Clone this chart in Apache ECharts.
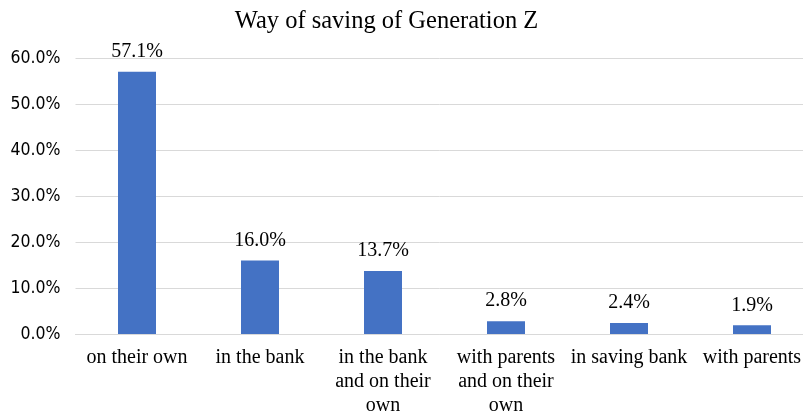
<!DOCTYPE html>
<html>
<head>
<meta charset="utf-8">
<script src="https://cdn.jsdelivr.net/npm/echarts@6/dist/echarts.min.js"></script>
<style>
html,body{margin:0;padding:0;background:#fff;}
#chart{width:803px;height:417px;}
</style>
</head>
<body>
<div id="chart"></div>
<script>
var title = 'Way of saving of Generation Z';
var categories = ['on their own', 'in the bank', 'in the bank\nand on their\nown', 'with parents\nand on their\nown', 'in saving bank', 'with parents'];
var values = [57.1, 16.0, 13.7, 2.8, 2.4, 1.9];
var yTicks = [0, 10, 20, 30, 40, 50, 60];

var serif = '"Liberation Serif", "Times New Roman", serif';
var narrow = '"Liberation Sans Narrow", "Arial Narrow", "DejaVu Sans Condensed", sans-serif';
var chart = echarts.init(document.getElementById('chart'));
chart.setOption({
  animation: false,
  title: {
    text: title,
    left: 381.5,
    textAlign: 'center',
    top: 4,
    textStyle: { fontFamily: serif, fontSize: 24.5, fontWeight: 'normal', color: '#000' }
  },
  grid: { left: 75.5, width: 738, top: 58.5, height: 275.5, containLabel: false, outerBoundsMode: 'none' },
  xAxis: {
    type: 'category',
    data: categories,
    axisLine: { lineStyle: { color: '#D9D9D9', width: 1 } },
    axisTick: { show: false },
    axisLabel: { fontFamily: serif, fontSize: 20, color: '#000', lineHeight: 24, margin: 12, interval: 0 }
  },
  yAxis: {
    type: 'value',
    min: yTicks[0],
    max: yTicks[yTicks.length - 1],
    interval: 10,
    axisLine: { show: false },
    axisTick: { show: false },
    splitLine: { lineStyle: { color: '#D9D9D9', width: 1 } },
    axisLabel: {
      fontFamily: narrow, fontSize: 17.5, color: '#000', margin: 15,
      formatter: function (v) { return v.toFixed(1) + '%'; }
    }
  },
  series: [{
    type: 'bar',
    data: values,
    barWidth: 38,
    itemStyle: { color: '#4472C4' },
    label: {
      show: true,
      position: 'top',
      distance: 10,
      fontFamily: serif,
      fontSize: 20,
      color: '#000',
      formatter: function (p) { return p.value.toFixed(1) + '%'; }
    }
  }]
});
</script>
</body>
</html>
